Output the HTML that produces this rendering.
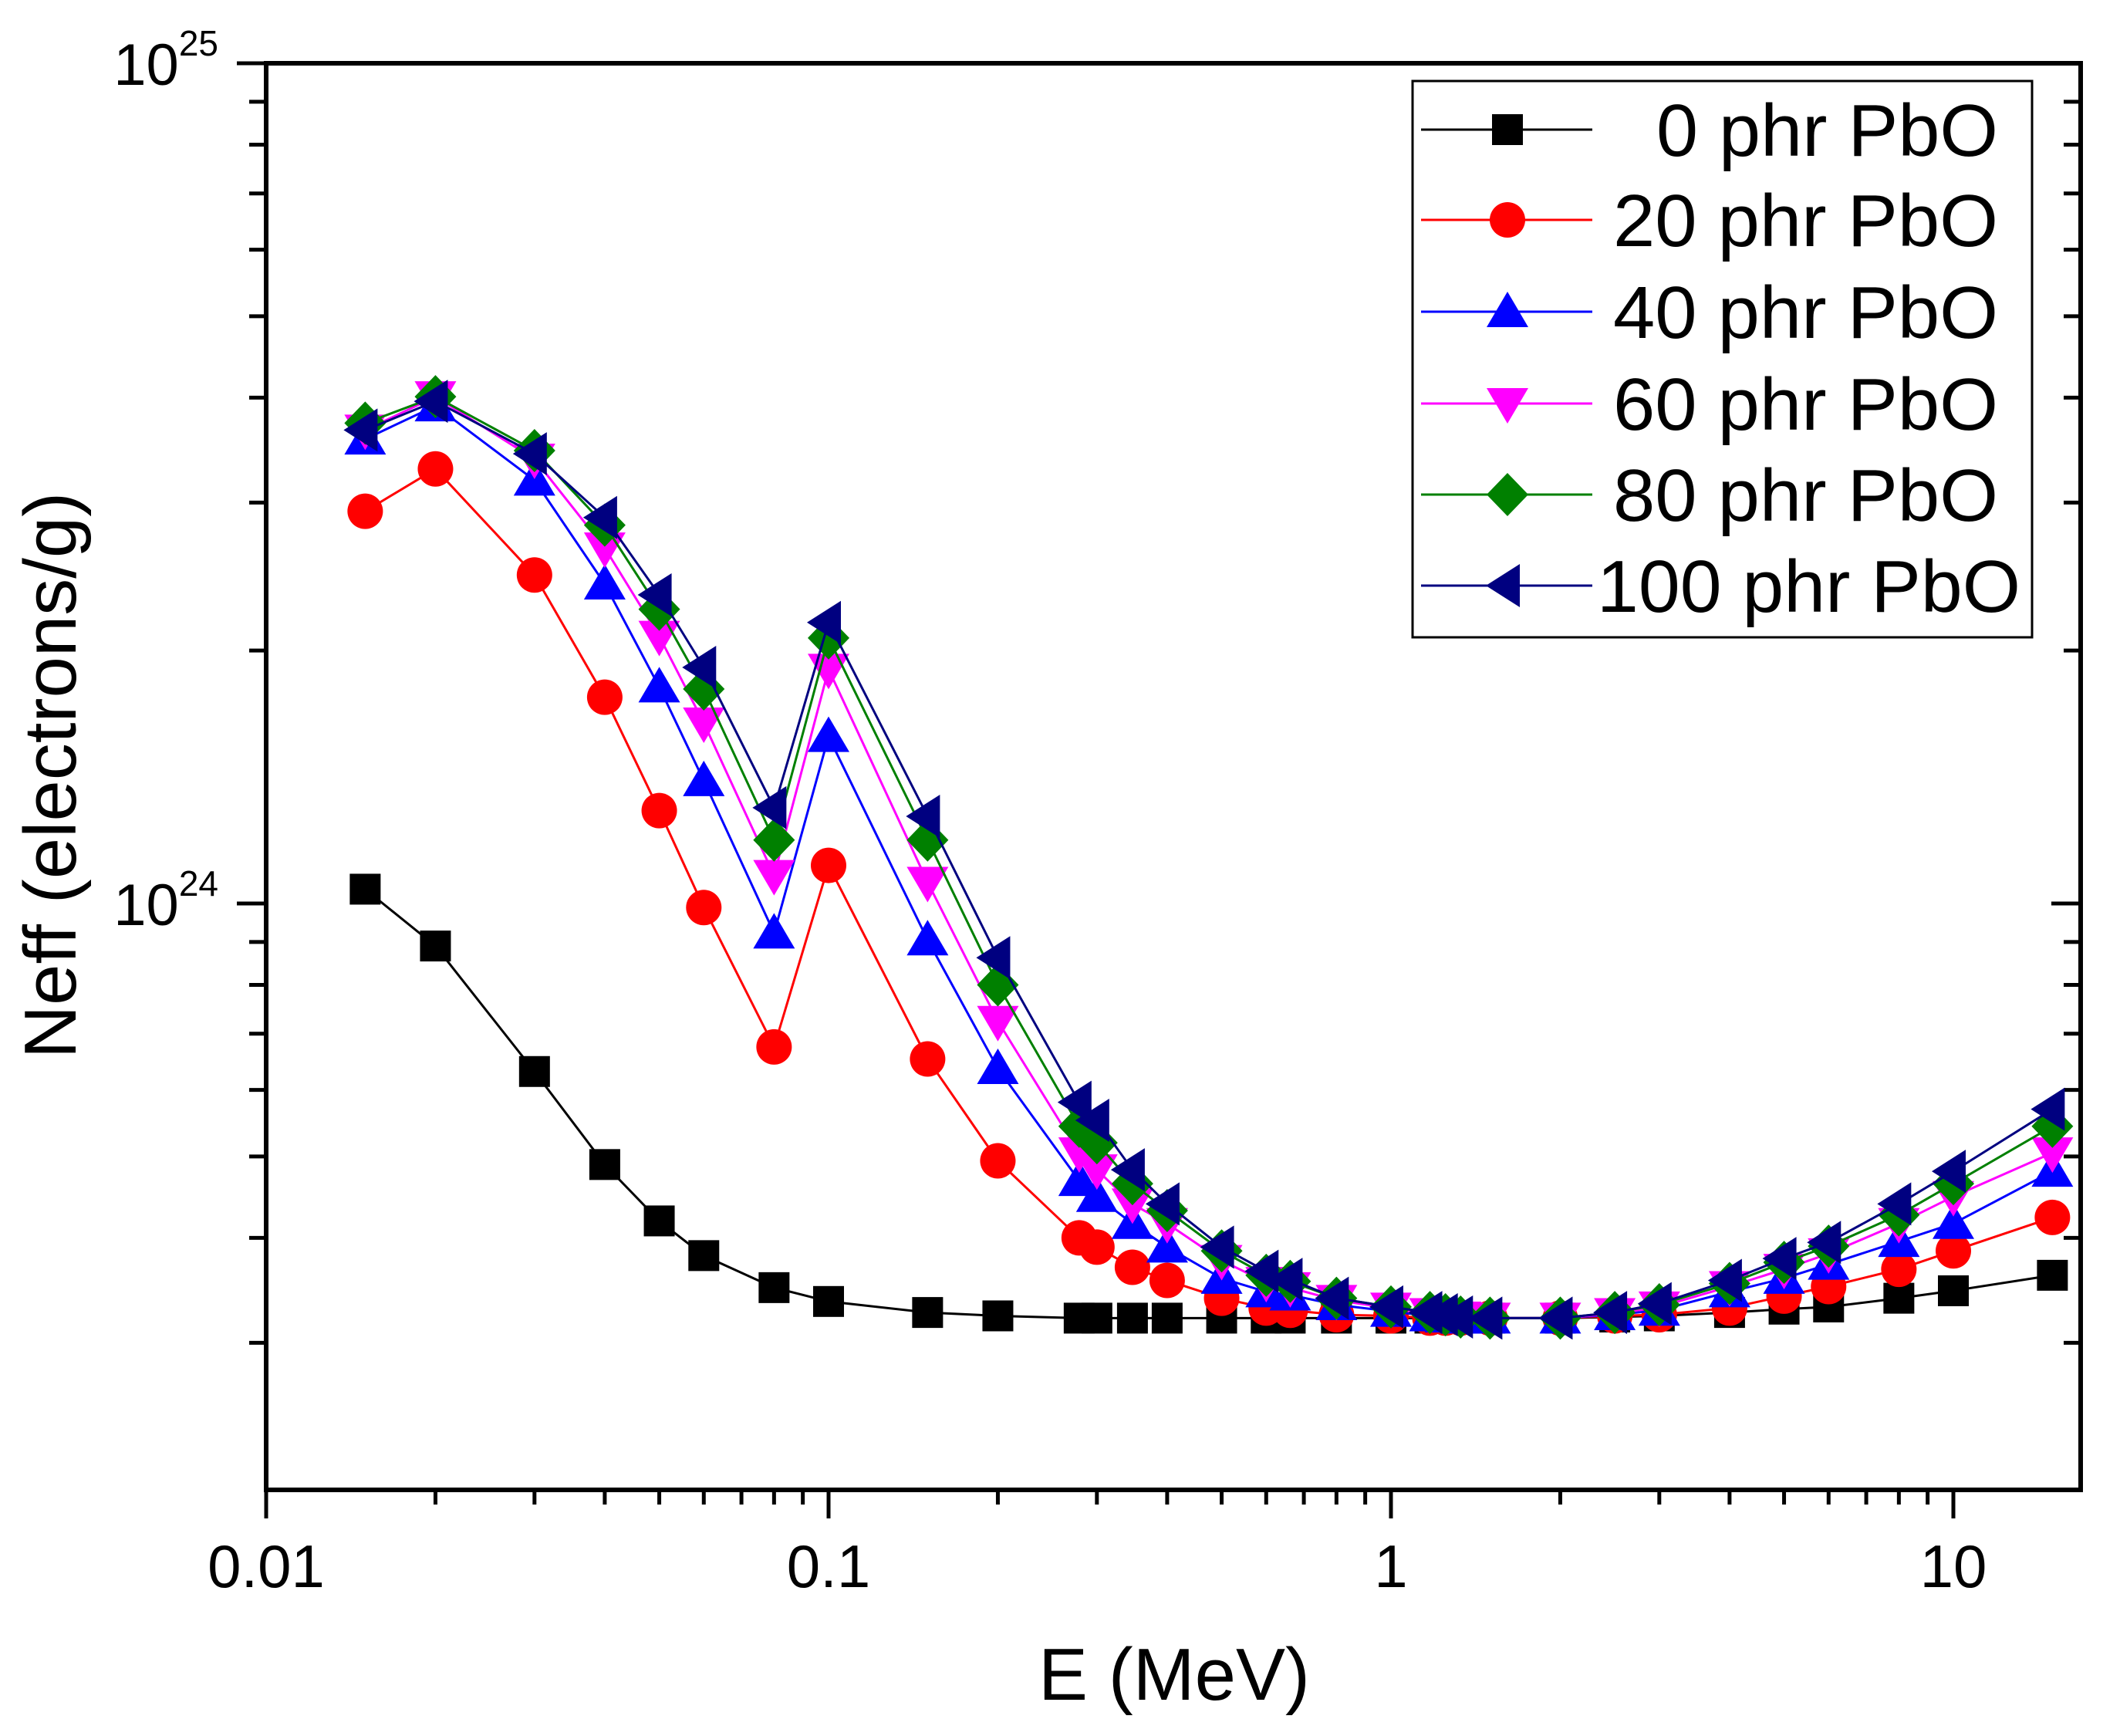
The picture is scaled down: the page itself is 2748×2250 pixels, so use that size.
<!DOCTYPE html>
<html><head><meta charset="utf-8"><style>
html,body{margin:0;padding:0;background:#fff}
svg{display:block}
text{font-family:"Liberation Sans",Arial,sans-serif;fill:#000}
</style></head><body>
<svg id="chart" width="2748" height="2250" viewBox="0 0 2748 2250" xmlns="http://www.w3.org/2000/svg"></svg>
<script>
const energies=[0.015,0.02,0.03,0.04,0.05,0.06,0.08,0.1,0.15,0.2,0.279,0.3,0.347,0.4,0.5,0.6,0.662,0.8,1,1.173,1.25,1.33,1.5,2,2.5,3,4,5,6,8,10,15];
const s0=[1.04,0.89,0.631,0.489,0.419,0.381,0.349,0.336,0.326,0.323,0.321,0.321,0.321,0.321,0.321,0.321,0.321,0.321,0.321,0.321,0.321,0.321,0.321,0.321,0.322,0.323,0.326,0.329,0.331,0.339,0.346,0.361];
const s20=[2.93,3.29,2.46,1.76,1.29,0.989,0.675,1.11,0.653,0.494,0.400,0.390,0.369,0.356,0.339,0.330,0.328,0.324,0.323,0.321,0.321,0.321,0.321,0.321,0.323,0.324,0.330,0.341,0.350,0.367,0.386,0.423];
const s40=[3.57,3.91,3.19,2.40,1.81,1.40,0.922,1.58,0.905,0.636,0.468,0.448,0.416,0.390,0.358,0.345,0.342,0.333,0.327,0.323,0.322,0.321,0.321,0.321,0.324,0.328,0.345,0.358,0.372,0.396,0.416,0.480];
const s60=[3.66,4.01,3.38,2.65,2.08,1.64,1.08,1.90,1.06,0.724,0.505,0.482,0.439,0.416,0.376,0.354,0.349,0.337,0.330,0.325,0.323,0.322,0.321,0.321,0.325,0.331,0.350,0.367,0.383,0.416,0.448,0.505];
const s80=[3.73,4.01,3.46,2.82,2.24,1.80,1.19,2.07,1.19,0.80,0.543,0.519,0.464,0.431,0.386,0.361,0.355,0.339,0.331,0.326,0.324,0.322,0.321,0.321,0.326,0.333,0.353,0.374,0.391,0.426,0.464,0.543];
const s100=[3.66,3.96,3.43,2.88,2.33,1.91,1.30,2.16,1.27,0.862,0.580,0.552,0.482,0.439,0.390,0.365,0.357,0.339,0.331,0.326,0.324,0.322,0.321,0.321,0.326,0.334,0.356,0.378,0.395,0.439,0.480,0.569];
const seriesLabels=["0 phr PbO","20 phr PbO","40 phr PbO","60 phr PbO","80 phr PbO","100 phr PbO"];
const xTickLabels=["0.01","0.1","1","10"];
const yTickLabels=["25","24"];

const NS="http://www.w3.org/2000/svg";
const svg=document.getElementById('chart');
const L=345,R=2697,T=82,B=1931;
const X0=-2,XD=729;
const Y25=82,YD=1089;
function xs(v){return L+(Math.log10(v)-X0)*XD;}
function ys(v){return Y25+(25-Math.log10(v*1e24))*YD;}
function el(tag,attrs,parent){const e=document.createElementNS(NS,tag);for(const k in attrs)e.setAttribute(k,attrs[k]);(parent||svg).appendChild(e);return e;}

const axes=el('g',{});


for(let d=-2;d<=1;d++){for(let m=1;m<=9;m++){const v=m*Math.pow(10,d);if(v>16.8)continue;const x=xs(v);const len=m==1?37:19;
 const t=el('line',{x1:x,y1:B,x2:x,y2:B+len,stroke:'#000','stroke-width':5},axes);
 
 }}
for(let d=23;d<=25;d++){for(let m=1;m<=9;m++){const v=m*Math.pow(10,d-24);const y=ys(v);if(y>B+1||y<T-1)continue;const len=m==1?38:22;
 const t=el('line',{x1:L,y1:y,x2:L-len,y2:y,stroke:'#000','stroke-width':5},axes);
 
 
 const t2=el('line',{x1:R,y1:y,x2:R-len,y2:y,stroke:'#000','stroke-width':5},axes);
 
 }}
const frame=el('rect',{x:L,y:T,width:R-L,height:B-T,fill:'none',stroke:'#000','stroke-width':6},axes);



xTickLabels.forEach((lab,i)=>{const t=el('text',{x:xs(Math.pow(10,i-2)),y:2057,'font-size':78,'text-anchor':'middle'},axes);t.textContent=lab;
 
 });
yTickLabels.forEach((p,i)=>{const y=ys(Math.pow(10,(+p)-24));const t=el('text',{x:283,y:y+28,'font-size':76,'text-anchor':'end'},axes);
 const a=document.createElementNS(NS,'tspan');a.textContent='10';t.appendChild(a);
 const b=document.createElementNS(NS,'tspan');b.setAttribute('dy','-38');b.setAttribute('font-size','46');b.textContent=p;t.appendChild(b);
 
 });

const xt=el('text',{x:1522,y:2203,'font-size':96,'text-anchor':'middle'});xt.textContent='E (MeV)';


const yt=el('text',{x:98,y:1005,'font-size':96,'text-anchor':'middle',transform:'rotate(-90 98 1005)'});yt.textContent='Neff (electrons/g)';



function marker(type,x,y,color,parent){
 if(type=='square')return el('rect',{x:x-20,y:y-20,width:40,height:40,fill:color},parent);
 if(type=='circle')return el('ellipse',{cx:x,cy:y,rx:23,ry:23,fill:color},parent);
 if(type=='up')return el('polygon',{points:`${x},${y-26} ${x-27},${y+20} ${x+27},${y+20}`,fill:color},parent);
 if(type=='down')return el('polygon',{points:`${x},${y+26} ${x-27},${y-20} ${x+27},${y-20}`,fill:color},parent);
 if(type=='diamond')return el('polygon',{points:`${x},${y-28} ${x+27},${y} ${x},${y+28} ${x-27},${y}`,fill:color},parent);
 return el('polygon',{points:`${x-28},${y} ${x+16},${y-28} ${x+16},${y+28}`,fill:color},parent);
}
const allSeries=[s0,s20,s40,s60,s80,s100];
const colors=['#000000','#ff0000','#0000ff','#ff00ff','#008000','#000080'];
const types=['square','circle','up','down','diamond','left'];
allSeries.forEach((vals,si)=>{
 const g=el('g',{});
 
 
 const pts=vals.map((v,i)=>xs(energies[i]).toFixed(1)+','+ys(v).toFixed(1)).join(' ');
 const pl=el('polyline',{points:pts,fill:'none',stroke:colors[si],'stroke-width':3},g);
 
 
 vals.forEach((v,i)=>{const m=marker(types[si],xs(energies[i]),ys(v),colors[si],g);
  
  });
});

const lg=el('g',{});


const lb=el('rect',{x:1831,y:105,width:803,height:721,fill:'#fff',stroke:'#000','stroke-width':3},lg);


const rowsY=[168,285,404,523,641,759];
seriesLabels.forEach((lab,i)=>{
 const y=rowsY[i];
 const ln=el('line',{x1:1842,y1:y,x2:2064,y2:y,stroke:colors[i],'stroke-width':3},lg);
 
 
 const m=marker(types[i],1954,y,colors[i],lg);
 
 
 let t;
 if(i==5) t=el('text',{x:2070,y:y+34,'font-size':96,textLength:549,lengthAdjust:'spacingAndGlyphs'},lg);
 else if(i==0) t=el('text',{x:2147,y:y+34,'font-size':96,textLength:443,lengthAdjust:'spacingAndGlyphs'},lg);
 else t=el('text',{x:2091,y:y+34,'font-size':96,textLength:499,lengthAdjust:'spacingAndGlyphs'},lg);
 t.textContent=lab;
 
 
});
</script>
</body></html>
